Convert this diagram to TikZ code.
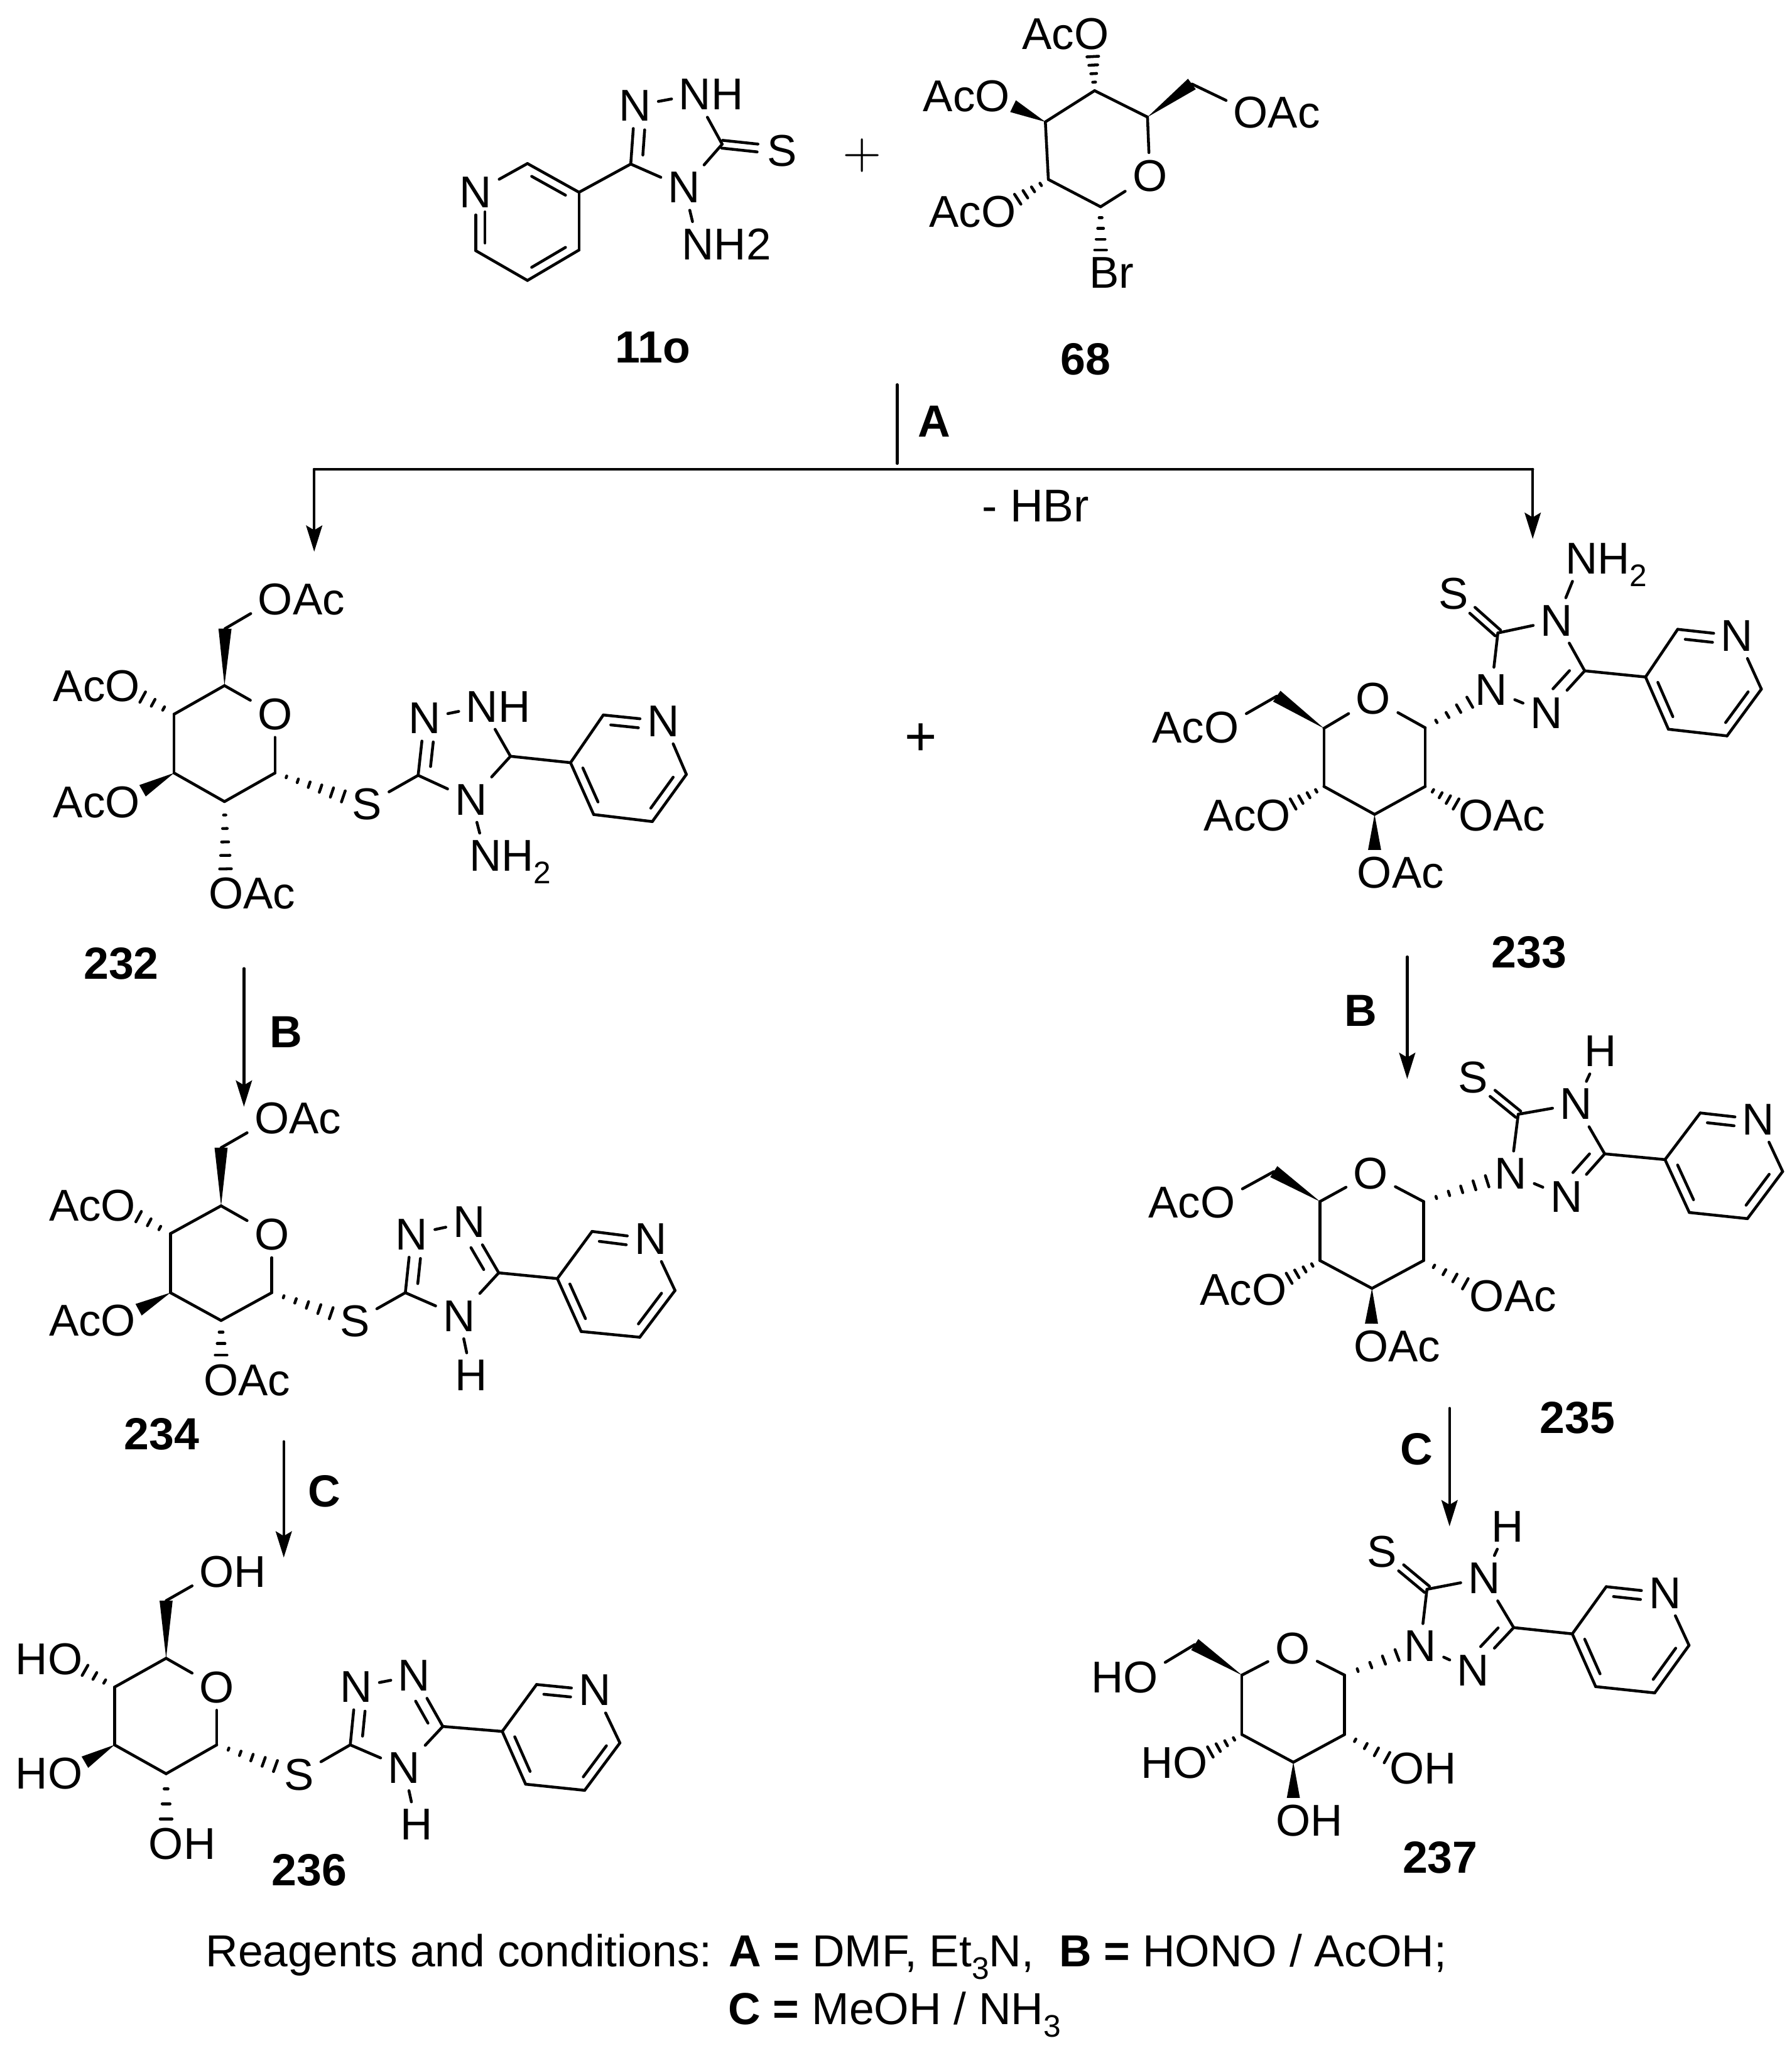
\documentclass[tikz,border=0pt]{standalone}
\usepackage{fontspec}
\setmainfont{Liberation Sans}
\usetikzlibrary{calc,arrows.meta}
\newcommand\chemf{\fontsize{9.7}{12}\selectfont}
\newcommand\boldf{\fontsize{9.8}{12}\selectfont\bfseries}
\newcommand\capf{\fontsize{9.77}{12}\selectfont}
\def\Ow{7.55pt}
\def\Nw{7pt}
\newcommand\sbs[1]{\raisebox{-.28em}{\fontsize{6.8}{7}\selectfont #1}}
\newcommand\cpt[2]{\coordinate (#1) at (#2);}
\newcommand\atm[3]{\node[atom] (#1) at (#2) {#3};}
\newcommand\bd[2]{\draw[bond] (#1) -- (#2);}
\newcommand\OAc[2]{\atm{#1}{#2}{O}\node[lab,anchor=base west] (#1t) at ($(#1.text)+(\Ow,0pt)$) {Ac};}
\newcommand\AcO[2]{\atm{#1}{#2}{O}\node[lab,anchor=base east] (#1t) at (#1.text) {Ac};}
\newcommand\OHr[2]{\atm{#1}{#2}{O}\node[lab,anchor=base west] (#1t) at ($(#1.text)+(\Ow,0pt)$) {H};}
\newcommand\HOl[2]{\atm{#1}{#2}{O}\node[lab,anchor=base east] (#1t) at (#1.text) {H};}
\newcommand\NHr[3]{\atm{#1}{#2}{N}\node[lab,anchor=base west] (#1t) at ($(#1.text)+(\Nw,0pt)$) {#3};}
\newcommand\wdg[3]{\coordinate (wE) at ($(#2.center)!#3!(#1.center)$);
  \fill ($(#1.center)$) -- ($(wE)!.05cm!90:(#1.center)$) -- ($(wE)!.05cm!-90:(#1.center)$) -- cycle;}
\newcommand\hsh[4][4]{\coordinate (hE) at ($(#3.center)!#4!(#2.center)$);
  \foreach \i in {1,...,#1}{\pgfmathsetmacro\hT{\i/#1}\pgfmathsetmacro\hW{0.045*\hT}
    \coordinate (hp) at ($(#2.center)!\hT!(hE)$);
    \draw[bond] ($(hp)!\hW cm!90:(#2.center)$) -- ($(hp)!\hW cm!-90:(#2.center)$);}}
\newcommand\inn[6]{\draw[bond] ($(#1.center)!#5!(#2.center)!#4!(#3)$) -- ($(#2.center)!#6!(#1.center)!#4!(#3)$);}
\newcommand\dbl[2]{\draw[bond,shorten >=.19cm] ($(#1.center)!.03cm!90:(#2.center)$) -- ($(#2.center)!.03cm!-90:(#1.center)$);
  \draw[bond,shorten >=.19cm] ($(#1.center)!.03cm!-90:(#2.center)$) -- ($(#2.center)!.03cm!90:(#1.center)$);}
\newcommand\pyr[7]{\atm{#1N}{#2}{N}\cpt{#12}{#3}\cpt{#13}{#4}\cpt{#14}{#5}\cpt{#15}{#6}\cpt{#16}{#7}
  \coordinate (#1c) at ($(#13)!.5!(#16)$);
  \bd{#13}{#12}\bd{#12}{#1N}\bd{#1N}{#16}\bd{#16}{#15}\bd{#15}{#14}\bd{#14}{#13}}
\newcommand\pyrdbl[1]{\inn{#12}{#1N}{#1c}{.18}{.06}{.38}\inn{#13}{#14}{#1c}{.18}{.1}{.1}\inn{#15}{#16}{#1c}{.18}{.1}{.1}}
\newcommand\ring[7]{\cpt{#1a}{#2}\cpt{#1b}{#3}\cpt{#1d}{#4}\cpt{#1e}{#5}\cpt{#1f}{#6}\atm{#1O}{#7}{O}
  \bd{#1a}{#1O}\bd{#1O}{#1b}\bd{#1b}{#1d}\bd{#1d}{#1e}\bd{#1e}{#1f}\bd{#1f}{#1a}}
\tikzset{
  bond/.style={line width=.62pt,line cap=round},
  atom/.style={inner sep=0pt,outer sep=1.6pt,font=\chemf},
  lab/.style={inner sep=0pt,outer sep=0pt,font=\chemf},
  cmpd/.style={inner sep=0pt,font=\boldf},
  capt/.style={inner sep=0pt,anchor=base west,font=\capf},
  arr/.style={bond,-{Stealth[length=5.7pt,width=3.5pt,inset=1pt]}}
}
\begin{document}
\begin{tikzpicture}[x=.01cm,y=-.01cm]
\path[use as bounding box] (0,0) rectangle (1372.2,1568);
% ---- 11o
\pyr{a}{364.3,147.2}{403.9,125.2}{443.4,147.2}{443.4,191.4}{403.9,214.7}{364.3,191.9}
\inn{a2}{a3}{ac}{.18}{.1}{.1}\inn{a6}{aN}{ac}{.18}{.05}{.3}\inn{a4}{a5}{ac}{.18}{.1}{.1}
\cpt{atC}{483,125.6}\cpt{atS}{553,110.4}\cpt{atc}{515.7,106.6}
\atm{atA}{486.2,81}{N}\NHr{atB}{532.2,72.4}{H}\atm{atD}{524,143.6}{N}\atm{atSS}{599,115.3}{S}
\NHr{atN}{534.5,187}{H2}
\bd{a3}{atC}\bd{atC}{atA}\bd{atA}{atB}\bd{atB}{atS}\bd{atS}{atD}\bd{atD}{atC}\bd{atD}{atN}
\inn{atC}{atA}{atc}{.28}{.05}{.35}\dbl{atS}{atSS}
\node[cmpd] (l11o) at (500,266.3) {11o};
\node[inner sep=0pt,font=\fontsize{10.7}{11}\selectfont] (plusA) at (660.2,119) {$+$};
% ---- 68
\ring{b}{878.7,89.6}{842.8,158.3}{802.8,137.4}{800.5,93.3}{838.2,69.4}{880.5,134.5}
\cpt{bCH}{912.7,64.3}\OAc{bO6}{957.8,85.9}\AcO{bO1}{835.9,25.8}\AcO{bO2}{760,73.6}\AcO{bO3}{764.6,162}
\wdg{ba}{bCH}{0cm}\bd{bCH}{bO6}\hsh[4]{bf}{bO1}{.175cm}\wdg{be}{bO2}{.175cm}\hsh[4]{bd}{bO3}{.175cm}
\node[lab] (bBr) at (851.1,208.6) {Br};\cpt{bBrE}{842.8,191.4}\hsh[4]{bb}{bBrE}{0cm}
\node[cmpd] (l68) at (831.3,274.8) {68};
% ---- reaction tree
\cpt{tTop}{687,294.5}\cpt{tEnd}{687,354.8}\cpt{tL}{240.6,359.3}\cpt{tR}{1173.7,359.3}\cpt{tLa}{240.6,422.4}\cpt{tRa}{1173.7,412.6}
\draw[bond] (tTop) -- (tEnd);\draw[bond] (tL) -- (tR);\draw[arr] (tL) -- (tLa);\draw[arr] (tR) -- (tRa);
\node[cmpd] (lA) at (715.4,322.7) {A};
\node[inner sep=0pt,anchor=base,font=\fontsize{10}{12}\selectfont] (lHBr) at (793,399.2) {- HBr};
\node[inner sep=0pt,font=\fontsize{12}{12}\selectfont] (plusB) at (705,566) {+};
% ---- 232
\ring{c}{171.9,524.9}{210.6,591.8}{171.9,613.7}{133.3,591.8}{133.3,546.8}{210.6,546.8}
\cpt{cCH}{172.3,481.3}\OAc{cO6}{210.9,458.7}\AcO{cO4}{93.9,525.3}\AcO{cO3}{93.9,614}\OAc{cO2}{173,684.2}
\wdg{ca}{cCH}{0cm}\bd{cCH}{cO6}\hsh[3]{cf}{cO4}{.175cm}\wdg{ce}{cO3}{.175cm}\hsh[5]{cd}{cO2}{.19cm}
\atm{cS}{280.9,615.9}{S}\hsh[6]{cb}{cS}{.19cm}
\cpt{ctC}{320.2,593.6}\atm{ctA}{325,550}{N}\NHr{ctB}{369.2,541}{H}\cpt{ctE}{390.9,579}\atm{ctD}{360.7,612.2}{N}\cpt{ctc}{353.5,575.2}
\NHr{ctN}{371.8,655.2}{H\sbs{2}}
\bd{cS}{ctC}\bd{ctC}{ctA}\bd{ctA}{ctB}\bd{ctB}{ctE}\bd{ctE}{ctD}\bd{ctD}{ctC}\bd{ctD}{ctN}
\inn{ctC}{ctA}{ctc}{.28}{.05}{.35}
\pyr{cp}{508,552.1}{462,547.4}{436.9,583.9}{454.6,623.6}{499.5,629}{525.6,592.9}\pyrdbl{cp}
\bd{ctE}{cp3}
\node[cmpd] (l232) at (92.8,737.8) {232};
\cpt{arBa}{186.8,741.5}\cpt{arBb}{186.8,847.3}\draw[arr] (arBa) -- (arBb);
\node[cmpd] (lB1) at (219,790) {B};
% ---- 234
\ring{e}{169.3,923.2}{208.1,989.7}{169.3,1011}{130.5,989.7}{130.5,944.5}{208.1,945.2}
\cpt{eCH}{169.3,878.7}\OAc{eO6}{208.1,856.4}\AcO{eO4}{90.7,923.2}\AcO{eO3}{90.7,1011}\OAc{eO2}{169.3,1056.5}
\wdg{ea}{eCH}{0cm}\bd{eCH}{eO6}\hsh[3]{ef}{eO4}{.175cm}\wdg{ee}{eO3}{.175cm}\hsh[3]{ed}{eO2}{.19cm}
\atm{eS}{271.6,1011.6}{S}\hsh[5]{eb}{eS}{.19cm}
\cpt{etC}{310.4,989.7}\atm{etA}{315.1,945.2}{N}\atm{etB}{359.3,935.7}{N}\cpt{etE}{381.9,974.5}\atm{etD}{351.5,1007.6}{N}\cpt{etc}{343.8,970.5}
\node[atom] (etH) at (361,1053.1) {H};
\bd{eS}{etC}\bd{etC}{etA}\bd{etA}{etB}\bd{etB}{etE}\bd{etE}{etD}\bd{etD}{etC}\bd{etD}{etH}
\inn{etC}{etA}{etc}{.28}{.05}{.35}\inn{etE}{etB}{etc}{.28}{.05}{.35}
\pyr{ep}{498.3,948.5}{453.4,942.8}{426.8,978.9}{445,1019.4}{489.9,1023.8}{516.9,988}\pyrdbl{ep}
\bd{etE}{ep3}
\node[cmpd] (l234) at (123.8,1098) {234};
\cpt{arCa}{217.3,1103.7}\cpt{arCb}{217.3,1192.5}\draw[arr] (arCa) -- (arCb);
\node[cmpd] (lC1) at (248.6,1141.9) {C};
% ---- 236
\ring{g}{127.2,1269.6}{166,1335.9}{127.2,1358}{87.7,1335.9}{87.7,1291.7}{166,1291.7}
\cpt{gCH}{127.2,1225.5}\OHr{gO6}{166,1203.4}\HOl{gO4}{49.9,1270.2}\HOl{gO3}{49.9,1358}\OHr{gO2}{127.2,1411.6}
\wdg{ga}{gCH}{0cm}\bd{gCH}{gO6}\hsh[3]{gf}{gO4}{.175cm}\wdg{ge}{gO3}{.175cm}\hsh[3]{gd}{gO2}{.19cm}
\atm{gS}{228.8,1358.6}{S}\hsh[5]{gb}{gS}{.19cm}
\cpt{gtC}{268.2,1335.9}\atm{gtA}{272.6,1291.7}{N}\atm{gtB}{317.2,1282.9}{N}\cpt{gtE}{339.1,1321.8}\atm{gtD}{309.4,1353.6}{N}\cpt{gtc}{301.3,1317.6}
\node[atom] (gtH) at (318.8,1396.9) {H};
\bd{gS}{gtC}\bd{gtC}{gtA}\bd{gtA}{gtB}\bd{gtB}{gtE}\bd{gtE}{gtD}\bd{gtD}{gtC}\bd{gtD}{gtH}
\inn{gtC}{gtA}{gtc}{.28}{.05}{.35}\inn{gtE}{gtB}{gtc}{.28}{.05}{.35}
\pyr{gp}{455.5,1294.1}{410.9,1289.7}{384.6,1325.6}{402.5,1366}{447.7,1370.7}{474.7,1334.4}\pyrdbl{gp}
\bd{gtE}{gp3}
\node[cmpd] (l236) at (236.9,1431.6) {236};
% ---- 233
\ring{d}{1013.8,557.6}{1091.4,557.2}{1091.4,602.1}{1052.6,623.5}{1013.8,602.1}{1051.6,535.1}
\cpt{dCH}{977.7,533}\AcO{dO6}{935.5,557.2}\AcO{dO4}{975,624.2}\OAc{dO2}{1130.2,624.2}\OAc{dO3}{1052.6,668.2}
\wdg{da}{dCH}{0cm}\bd{dCH}{dO6}\hsh[4]{df}{dO4}{.175cm}\wdg{de}{dO3}{.175cm}\hsh[4]{dd}{dO2}{.175cm}
\atm{dtA}{1142,528.2}{N}\hsh[4]{db}{dtA}{.19cm}
\cpt{dtC}{1147,484.6}\atm{dtS}{1113.3,454.6}{S}\atm{dtD}{1192,475}{N}\atm{dtB}{1184.2,545.8}{N}\cpt{dtE}{1213.5,513.6}\cpt{dtc}{1175.7,508.9}
\NHr{dtN}{1211.2,427.7}{H\sbs{2}}
\bd{dtA}{dtC}\bd{dtC}{dtD}\bd{dtD}{dtE}\bd{dtE}{dtB}\bd{dtB}{dtA}\bd{dtD}{dtN}
\dbl{dtC}{dtS}\inn{dtE}{dtB}{dtc}{.28}{.05}{.35}
\pyr{dp}{1330.2,486.8}{1284.7,481.8}{1260.1,518.3}{1277.6,558.3}{1322.5,563.4}{1348.8,527.6}\pyrdbl{dp}
\bd{dtE}{dp3}
\node[cmpd] (l233) at (1171,728.9) {233};
\cpt{arDa}{1077.6,732.6}\cpt{arDb}{1077.6,826.1}\draw[arr] (arDa) -- (arDb);
\node[cmpd] (lB2) at (1042.2,773.8) {B};
% ---- 235
\ring{f}{1010.8,919.9}{1090.1,919.9}{1090.1,965.1}{1050.6,986.4}{1010.8,965.1}{1049.6,898.6}
\cpt{fCH}{975.4,897}\AcO{fO6}{932.5,920.6}\AcO{fO4}{972,987.4}\OAc{fO2}{1138.7,992.1}\OAc{fO3}{1050,1030.9}
\wdg{fa}{fCH}{0cm}\bd{fCH}{fO6}\hsh[4]{ff}{fO4}{.175cm}\wdg{fe}{fO3}{.175cm}\hsh[4]{fd}{fO2}{.19cm}
\atm{ftA}{1156.9,898.6}{N}\hsh[5]{fb}{ftA}{.19cm}
\cpt{ftC}{1162.6,853.1}\atm{ftS}{1128.2,825.1}{S}\atm{ftD}{1206.8,845.3}{N}\atm{ftB}{1199.4,916.5}{N}\cpt{ftE}{1228.8,883.4}\cpt{ftc}{1191.1,879.2}
\node[atom] (ftH) at (1225.4,804.8) {H};
\bd{ftA}{ftC}\bd{ftC}{ftD}\bd{ftD}{ftE}\bd{ftE}{ftB}\bd{ftB}{ftA}\bd{ftD}{ftH}
\dbl{ftC}{ftS}\inn{ftE}{ftB}{ftc}{.28}{.05}{.35}
\pyr{fp}{1346.5,857.1}{1302,852.1}{1275,887.8}{1293.6,928.3}{1338.1,933}{1365.1,896.9}\pyrdbl{fp}
\bd{ftE}{fp3}
\node[cmpd] (l235) at (1208,1085.4) {235};
\cpt{arEa}{1110,1078.2}\cpt{arEb}{1110,1168.6}\draw[arr] (arEa) -- (arEb);
\node[cmpd] (lC2) at (1084.8,1109.5) {C};
% ---- 237
\ring{h}{951,1282.5}{1029.6,1282.5}{1029.6,1328}{990.4,1349.2}{951,1328}{989.8,1262.3}
\cpt{hCH}{914.9,1259.1}\HOl{hO6}{873.4,1284.1}\HOl{hO4}{911.5,1349.8}\OHr{hO2}{1077.5,1354}\OHr{hO3}{990.4,1394}
\wdg{ha}{hCH}{0cm}\bd{hCH}{hO6}\hsh[4]{hf}{hO4}{.175cm}\wdg{he}{hO3}{.175cm}\hsh[4]{hd}{hO2}{.175cm}
\atm{htA}{1087.6,1260.4}{N}\hsh[4]{hb}{htA}{.19cm}
\cpt{htC}{1092.7,1216.8}\atm{htS}{1058.3,1188.2}{S}\atm{htD}{1136.5,1208.3}{N}\atm{htB}{1128.1,1279.2}{N}\cpt{htE}{1159.1,1246.1}\cpt{htc}{1120.6,1242.8}
\node[atom] (htH) at (1154.4,1168.7) {H};
\bd{htA}{htC}\bd{htC}{htD}\bd{htD}{htE}\bd{htE}{htB}\bd{htB}{htA}\bd{htD}{htH}
\dbl{htC}{htS}\inn{htE}{htB}{htc}{.28}{.05}{.35}
\pyr{hp}{1274.9,1219.7}{1230,1214.8}{1204,1250.9}{1221.9,1291.3}{1267.1,1296.1}{1293.4,1259.7}\pyrdbl{hp}
\bd{htE}{hp3}
\node[cmpd] (l237) at (1102.8,1422.3) {237};
% ---- caption
\node[capt] (capA) at (156.9,1505.5) {Reagents and conditions: \textbf{A =} DMF, Et\sbs{3}N,\ \ \textbf{B =} HONO / AcOH;};
\node[capt] (capB) at (557,1550) {\textbf{C =} MeOH / NH\sbs{3}};
\end{tikzpicture}
\end{document}
